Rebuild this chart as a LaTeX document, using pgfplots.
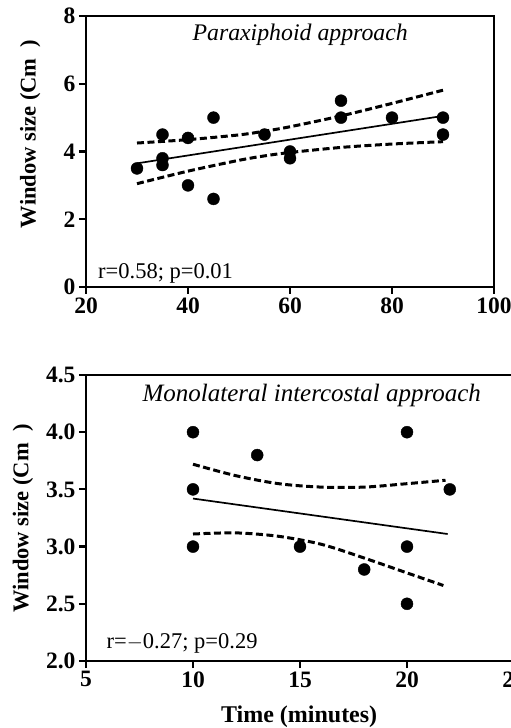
\documentclass[border=0pt]{standalone}
\usepackage{fontspec}
\setmainfont{Liberation Serif}
\usepackage{pgfplots}
\pgfplotsset{compat=1.18}
\pgfplotsset{
  panel/.style={
    scale only axis,
    axis line style={line width=2.7pt},
    tick style={line width=2.2pt,black},
    major tick length=7pt,
    tick align=outside,
    xtick pos=lower, ytick pos=left,
    ticklabel style={font=\bfseries\fontsize{23.5}{25}\selectfont},
    /pgf/number format/assume math mode=true,
    clip=false,
  },
  dots/.style={only marks, mark=*, mark size=6pt, black},
  fit/.style={black, line width=1.7pt, no marks},
  band/.style={black, line width=3pt, dash pattern=on 7pt off 3.5pt, no marks, smooth},
}
\begin{document}
\begin{tikzpicture}
\useasboundingbox (0pt,0pt) rectangle (511pt,728pt);

% top panel: paraxiphoid
\begin{axis}[panel,
  at={(86pt,441pt)}, anchor=south west,
  width=408pt, height=271pt,
  xmin=20, xmax=100, ymin=0, ymax=8,
  xtick={20,40,60,80,100}, ytick={0,2,4,6,8},
]
\addplot[dots] coordinates {
  (30,3.5) (35,4.5) (35,3.8) (35,3.6) (40,4.4) (40,3.0) (45,5.0) (45,2.6)
  (55,4.5) (60,4.0) (60,3.8) (70,5.5) (70,5.0) (80,5.0) (90,5.0) (90,4.5)
};
\addplot[fit] coordinates {(30,3.65) (90,5.05)};
\addplot[band] coordinates {
  (30,4.25) (40,4.35) (50,4.49) (55,4.60) (60,4.73) (70,5.05) (80,5.42) (90,5.81)
};
\addplot[band] coordinates {
  (30,3.05) (40,3.42) (50,3.74) (55,3.87) (60,3.97) (70,4.12) (80,4.22) (90,4.29)
};
\node[font=\itshape\fontsize{23.8}{26}\selectfont] at (axis cs:62,7.45) {Paraxiphoid approach};
\node[anchor=west, font=\fontsize{22.5}{25}\selectfont] at (axis cs:21.7,0.41) {r=0.58; p=0.01};
\node[rotate=90, font=\bfseries\fontsize{22.5}{25}\selectfont] at (rel axis cs:-0.137,0.565) {Window size (Cm~~)};
\end{axis}

% bottom panel: monolateral intercostal
\begin{axis}[panel,
  at={(86pt,67pt)}, anchor=south west,
  width=428pt, height=286pt,
  xmin=5, xmax=25, ymin=2, ymax=4.5,
  xtick={5,10,15,20,25}, ytick={2.0,2.5,3.0,3.5,4.0,4.5},
  yticklabel style={/pgf/number format/.cd, fixed, fixed zerofill, precision=1},
]
\addplot[dots] coordinates {
  (10,4.0) (10,3.5) (10,3.0) (13,3.8) (15,3.0) (18,2.8)
  (20,4.0) (20,3.0) (20,2.5) (22,3.5)
};
\addplot[fit] coordinates {(10,3.42) (21.9,3.11)};
\addplot[band] coordinates {
  (10,3.72) (12,3.62) (14,3.55) (16,3.52) (18,3.52) (20,3.55) (21.8,3.58)
};
\addplot[band] coordinates {
  (10,3.11) (12,3.12) (14,3.09) (16,3.02) (18,2.90) (20,2.77) (21.7,2.66)
};
\node[font=\itshape\fontsize{25}{27}\selectfont] at (axis cs:15.55,4.325) {Monolateral intercostal approach};
\node[anchor=west, font=\fontsize{22.5}{25}\selectfont] at (axis cs:5.8,2.157) {r=$-$0.27; p=0.29};
\node[rotate=90, font=\bfseries\fontsize{22.5}{25}\selectfont] at (rel axis cs:-0.147,0.498) {Window size (Cm~~)};
\node[font=\bfseries\fontsize{24}{26}\selectfont] at (rel axis cs:0.498,-0.195) {Time (minutes)};
\end{axis}
\end{tikzpicture}
\end{document}
